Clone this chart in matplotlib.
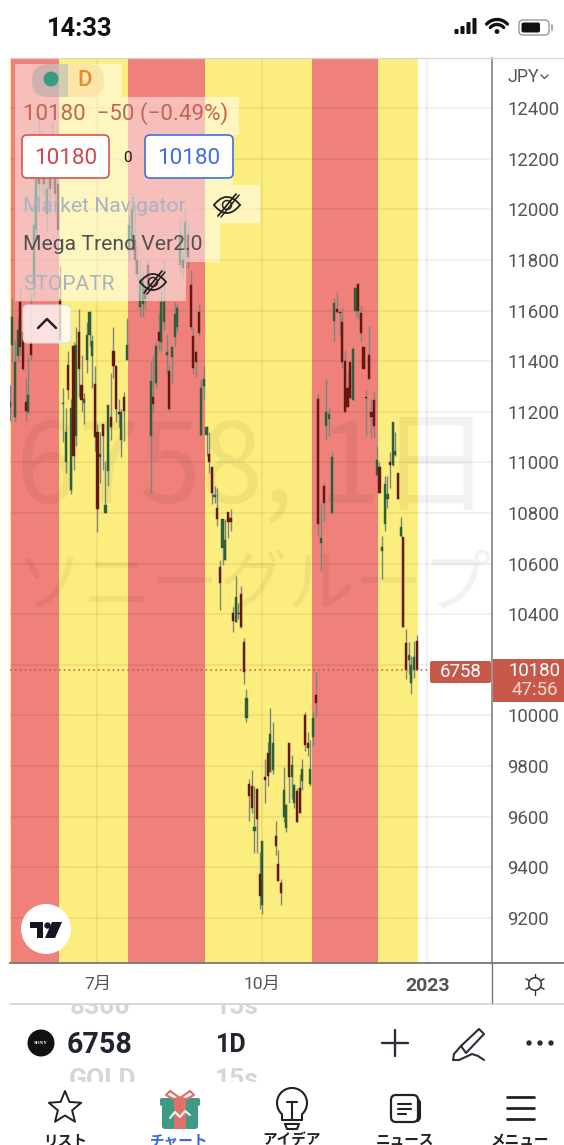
import matplotlib
matplotlib.use('Agg')
import matplotlib.pyplot as plt
import matplotlib.patches as mpatches
import numpy as np

plt.rcParams['font.family'] = ['Roboto', 'Noto Sans CJK JP', 'DejaVu Sans']

# Colors
RED_BAND = '#ef807a'
YELLOW_BAND = '#fcee7e'
UP_BODY = '#2d5f3b'
DOWN_BODY = '#64180f'
UP_WICK = '#74897a'
DOWN_WICK = '#85857a'
PRICE_TAG = '#c8594a'

# Daily candles, June 2022 - Dec 2022
opens = [11220, 11465, 11180, 11420, 11635, 11515, 11240, 11200, 11475, 11705,
         11920, 12235, 12275, 12255, 11980, 12155, 12140, 12175, 12100, 11645,
         11230, 11000, 11385, 10890, 11460, 11105, 11515, 11305, 11235, 11405,
         11505, 11420, 11310, 11120, 11020, 11150, 10800, 10965, 11180, 11440,
         11380, 11200, 11090, 11260, 11405, 11840, 11880, 11880, 11800, 11615,
         11625, 11685, 11780, 11105, 11260, 11315, 11515, 11475, 11555, 11425,
         11360, 11415, 11495, 11535, 11780, 11800, 11840, 11900, 11700, 11500,
         11435, 11595, 11110, 11300, 11110, 11035, 10980, 10865, 10820, 10585,
         10660, 10615, 10805, 10780, 10405, 10370, 10400, 10480, 10290, 9990,
         9730, 9720, 9545, 9710, 9375, 9250, 9755, 9850, 9775, 9785,
         9525, 9415, 9340, 9600, 9555, 9890, 9755, 9655, 9700, 9715,
         9740, 10000, 9890, 9730, 9915, 10080, 11250, 10680, 10905, 11145,
         11170, 10800, 11560, 11605, 11595, 11555, 11400, 11295, 11395, 11245,
         11600, 11705, 11590, 11455, 11260, 11425, 11200, 11245, 10950, 10980,
         10650, 10755, 10855, 11000, 10990, 11030, 10960, 10710, 10705, 10285,
         10220, 10130, 10180, 10295]
closes = [11240, 11575, 11395, 11525, 11455, 11370, 11205, 11265, 11425, 11940,
          12120, 12100, 12120, 12100, 12080, 12080, 12275, 12060, 11920, 11485,
          11235, 11120, 11285, 11215, 11025, 11465, 11370, 11245, 11250, 11505,
          11595, 11480, 11100, 10815, 11035, 11105, 10830, 11225, 11140, 11380,
          11210, 11190, 11200, 11205, 11465, 11940, 12000, 11800, 11745, 11725,
          11715, 11645, 11685, 11320, 11230, 11460, 11480, 11635, 11635, 11435,
          11210, 11455, 11585, 11610, 11900, 11770, 11950, 11810, 11535, 11375,
          11395, 11510, 11295, 11330, 11140, 11000, 10880, 10870, 10775, 10525,
          10775, 10695, 10765, 10765, 10375, 10470, 10405, 10350, 10170, 10070,
          9680, 9635, 9560, 9590, 9285, 9505, 9745, 9760, 9925, 9890,
          9485, 9345, 9300, 9705, 9645, 9755, 9805, 9725, 9580, 9615,
          9790, 9885, 9870, 9790, 9990, 10050, 10755, 10700, 10840, 11200,
          11190, 11020, 11630, 11595, 11590, 11395, 11200, 11220, 11255, 11450,
          11690, 11600, 11510, 11370, 11255, 11330, 11180, 11145, 11010, 10880,
          10665, 10915, 10875, 10990, 11160, 11045, 10855, 10745, 10350, 10180,
          10240, 10200, 10230, 10180]
highs = [11305, 11645, 11485, 11575, 11690, 11565, 11335, 11415, 11670, 12080,
         12155, 12380, 12315, 12295, 12235, 12175, 12345, 12235, 12195, 11775,
         11295, 11215, 11440, 11250, 11475, 11535, 11605, 11425, 11275, 11555,
         11600, 11505, 11380, 11150, 11120, 11150, 11005, 11225, 11355, 11535,
         11380, 11250, 11210, 11280, 11570, 11980, 12065, 12020, 11855, 11800,
         11760, 11705, 11800, 11400, 11425, 11475, 11590, 11685, 11800, 11505,
         11385, 11460, 11635, 11625, 11960, 11830, 12000, 11940, 11760, 11535,
         11445, 11625, 11330, 11380, 11145, 11120, 10980, 10905, 10900, 10615,
         10775, 10775, 10805, 10815, 10430, 10550, 10445, 10510, 10305, 10105,
         9750, 9785, 9720, 9710, 9460, 9505, 9830, 9895, 10030, 9975,
         9585, 9470, 9355, 9795, 9650, 9890, 9845, 9730, 9715, 9770,
         9830, 10015, 9935, 9905, 10015, 10170, 11270, 10840, 10920, 11330,
         11215, 11040, 11650, 11675, 11600, 11610, 11445, 11360, 11395, 11460,
         11695, 11705, 11620, 11455, 11290, 11540, 11250, 11280, 11065, 11000,
         10710, 10945, 10945, 11040, 11160, 11120, 10960, 10785, 10705, 10340,
         10290, 10235, 10295, 10320]
lows = [11165, 11395, 11160, 11395, 11425, 11360, 11160, 11190, 11405, 11645,
        11880, 12040, 12060, 12050, 11910, 12020, 12080, 11980, 11840, 11475,
        11080, 10960, 11250, 10875, 10970, 11065, 11260, 11200, 11150, 11355,
        11460, 11295, 11045, 10725, 10920, 10970, 10800, 10905, 11090, 11335,
        11160, 11140, 11020, 11085, 11405, 11795, 11840, 11745, 11715, 11580,
        11575, 11605, 11645, 10880, 11200, 11295, 11445, 11435, 11525, 11355,
        11200, 11315, 11455, 11515, 11745, 11730, 11795, 11770, 11525, 11350,
        11335, 11500, 11105, 11250, 11025, 10960, 10835, 10840, 10750, 10415,
        10595, 10615, 10700, 10730, 10330, 10370, 10380, 10345, 10125, 9975,
        9585, 9615, 9455, 9455, 9235, 9215, 9655, 9720, 9775, 9770,
        9450, 9345, 9250, 9580, 9540, 9655, 9670, 9635, 9580, 9615,
        9705, 9860, 9840, 9720, 9880, 9995, 10710, 10570, 10765, 11090,
        11105, 10800, 11480, 11590, 11500, 11375, 11200, 11220, 11255, 11245,
        11575, 11565, 11480, 11370, 11105, 11330, 11095, 11095, 10945, 10880,
        10540, 10730, 10820, 10900, 10985, 11025, 10855, 10705, 10350, 10145,
        10165, 10085, 10150, 10180]

# Trend regime changes, as candle numbers
band_edges = [-1, 0.5, 18.5, 44.5, 73.5, 113.5, 138.5, 153.5]
band_colors = [YELLOW_BAND, RED_BAND, YELLOW_BAND, RED_BAND, YELLOW_BAND, RED_BAND, YELLOW_BAND]

price_ticks = [9200, 9400, 9600, 9800, 10000, 10200, 10400, 10600, 10800, 11000,
               11200, 11400, 11600, 11800, 12000, 12200, 12400]
# 10200 sits under the price tag, so it keeps its grid line but shows no label
price_labels = ['' if p == 10200 else str(p) for p in price_ticks]
month_ticks = [33, 95, 157]
month_labels = ['7月', '10月', '2023']
last_price = 10180

fig = plt.figure(figsize=(5.64, 11.45), dpi=100)
W, H = 564.0, 1145.0

# Chart area in screen pixels
left, right, top, bottom = 10, 492, 58, 963
ax = fig.add_axes([left / W, 1 - bottom / H, (right - left) / W, (bottom - top) / H])
ax.set_ylim(9022, 12598)
ax.set_xlim(0.11, 181.3)

for i in range(len(band_colors)):
    ax.axvspan(band_edges[i], band_edges[i + 1], color=band_colors[i], lw=0, zorder=0)

ax.set_yticks(price_ticks)
ax.set_yticklabels(price_labels)
ax.set_xticks(month_ticks)
ax.set_xticklabels(month_labels)
ax.yaxis.tick_right()
ax.tick_params(axis='y', length=0, pad=11, labelsize=13.4, labelcolor='#555555')
ax.tick_params(axis='x', length=0, pad=10, labelsize=12.5, labelcolor='#555555')
ax.get_xticklabels()[2].set_fontweight('bold')
ax.get_xticklabels()[2].set_fontsize(14)
ax.grid(True, color='black', alpha=0.07, lw=1.1, zorder=1)
ax.set_axisbelow(True)
for side in ['left', 'top']:
    ax.spines[side].set_visible(False)
ax.spines['right'].set_color('#777777')
ax.spines['bottom'].set_color('#777777')
ax.spines['right'].set_linewidth(1.1)
ax.spines['bottom'].set_linewidth(1.3)

# Watermark
ax.text(0.505, 0.545, '6758, 1日', transform=ax.transAxes, ha='center', va='center',
        fontsize=80, color='black', alpha=0.05, zorder=1.5, family=['Noto Sans CJK JP', 'DejaVu Sans'])
ax.text(0.505, 0.416, 'ソニーグループ', transform=ax.transAxes, ha='center', va='center',
        fontsize=49, color='black', alpha=0.05, zorder=1.5, family=['Noto Sans CJK JP', 'DejaVu Sans'])

# Candles
idx = np.arange(len(opens))
o, c, h, l = np.array(opens), np.array(closes), np.array(highs), np.array(lows)
up = c >= o
ax.vlines(idx[up], l[up], h[up], color=UP_WICK, lw=1.0, zorder=2)
ax.vlines(idx[~up], l[~up], h[~up], color=DOWN_WICK, lw=1.0, zorder=2)
ax.bar(idx[up], (c - o)[up], bottom=o[up], width=0.8, color=UP_BODY,
       edgecolor=UP_BODY, lw=0.3, zorder=3)
ax.bar(idx[~up], (c - o)[~up], bottom=o[~up], width=0.8, color=DOWN_BODY,
       edgecolor=DOWN_BODY, lw=0.3, zorder=3)

ax.axhline(last_price, color='#b9503f', lw=1.1, ls=(0, (1, 2.2)), zorder=3)

# Everything else on the screen is drawn in pixel coordinates
ui = fig.add_axes([0, 0, 1, 1], zorder=5)
ui.set_xlim(0, W)
ui.set_ylim(H, 0)
ui.axis('off')
ui.patch.set_alpha(0)


def rect(x0, y0, x1, y1, fc, ec='none', lw=0, alpha=None, round_px=0, z=2):
    style = 'round,pad=0,rounding_size=%g' % round_px if round_px else 'square,pad=0'
    p = mpatches.FancyBboxPatch((x0, y0), x1 - x0, y1 - y0, boxstyle=style, fc=fc, ec=ec,
                                lw=lw, alpha=alpha, zorder=z)
    ui.add_patch(p)
    return p


def line(xs, ys, color='#222222', lw=1.5, z=4):
    ui.plot(xs, ys, color=color, lw=lw, zorder=z, solid_capstyle='round', solid_joinstyle='round')


def label(x, y, s, size, color='#222222', weight='normal', ha='left', z=4, **kw):
    return ui.text(x, y, s, fontsize=size, color=color, fontweight=weight, ha=ha, va='center',
                   zorder=z, **kw)


def eye(x, y):
    t = np.linspace(-1, 1, 30)
    line(x + 13 * t, y - 8 * (1 - t ** 2), lw=1.3)
    line(x + 13 * t, y + 8 * (1 - t ** 2), lw=1.3)
    circle = mpatches.Circle((x, y), 4.5, fc='none', ec='#222222', lw=1.1, zorder=4)
    ui.add_patch(circle)
    line([x - 9, x + 9], [y + 11, y - 11], lw=1.3)
    line([x - 6, x + 12], [y + 12, y - 10], lw=1.1)


# Top border and lines around the axes
line([left, 564], [58, 58], color='#d5d5d5', lw=0.9, z=1)
line([10, 564], [1003.5, 1003.5], color='#cfcfcf', lw=1.1, z=1)
line([492, 492], [963, 1003], color='#777777', lw=1.0, z=1)
line([492, 564], [963, 963], color='#777777', lw=1.3, z=1)

# Legend veils
for x1, y0, y1 in [(122, 64, 97), (239, 97, 135), (233, 135, 185), (260, 185, 223),
                   (220, 223, 262), (186, 262, 301)]:
    rect(15, y0, x1, y1, 'white', alpha=0.5, z=1)

# Interval pill, two tints
pill_l = rect(32, 64, 104, 97, '#a9a5a2', alpha=0.5, round_px=16, z=1.5)
pill_l.set_clip_path(mpatches.Rectangle((32, 64), 36, 33, transform=ui.transData))
pill_r = rect(32, 64, 104, 97, '#fbdc9a', alpha=0.6, round_px=16, z=1.5)
pill_r.set_clip_path(mpatches.Rectangle((68, 64), 36, 33, transform=ui.transData))
ui.add_patch(mpatches.Circle((51, 79), 7.5, fc='#3a9b84', ec='none', zorder=3))
label(85, 81, 'D', 16, color='#e68a2e', weight='medium', ha='center')
label(23, 114, '10180  −50 (−0.49%)', 16.1, color='#c4654f')

rect(22, 135, 109, 178, 'white', ec='#d9534f', lw=1.2, round_px=5, z=3)
rect(145, 135, 233, 178, 'white', ec='#3f6fe0', lw=1.2, round_px=5, z=3)
label(65.5, 158, '10180', 16.2, color='#d0474f', ha='center')
label(189, 158, '10180', 16.2, color='#3f6fe0', ha='center')
label(127, 158, '0', 11, color='#111111', ha='center')

label(23, 206, 'Market Navigator', 15.2, color='#a8b3c4')
label(23, 245, 'Mega Trend Ver2.0', 15.2, color='#505050')
label(23, 284, 'STOPATR', 15, color='#a8b3c4')
eye(227, 205)
eye(153, 282)

rect(23, 305, 71, 343, 'white', ec='#dddddd', lw=1.0, alpha=0.78, round_px=5, z=3)
line([38, 47, 56], [328, 319, 328], lw=1.8)

# TradingView badge
ui.add_patch(mpatches.Circle((46, 929), 25, fc='white', ec='none', zorder=3))
ui.add_patch(mpatches.Polygon([(30, 922), (43, 922), (43, 938), (37, 938), (37, 928), (30, 928)],
                              fc='#131722', ec='none', zorder=4))
ui.add_patch(mpatches.Circle((47.5, 925.5), 3.2, fc='#131722', ec='none', zorder=4))
ui.add_patch(mpatches.Polygon([(52, 922), (62, 922), (55, 938), (45, 938)], fc='#131722', ec='none', zorder=4))

# Price tags
rect(430, 661, 491, 683, PRICE_TAG, round_px=2, z=3)
label(461, 672, '6758', 13.4, color='white', ha='center')
rect(493, 659, 564, 702, PRICE_TAG, z=3)
label(535, 671, '10180', 13.4, color='white', ha='center')
label(535, 690, '47:56', 13.4, color='#f3d5cf', ha='center')

# JPY and status bar
label(507, 77, 'JPY', 12.8, color='#555555')
line([541, 544.5, 548], [75, 78.5, 75], color='#555555', lw=1.0)
label(47, 29, '14:33', 18.4, color='#111111', weight='bold')
for i, bar_h in enumerate([5, 8, 12, 16]):
    rect(454.5 + i * 6, 34 - bar_h, 458.5 + i * 6, 34, '#111111', round_px=1)
for r in [14, 9]:
    t = np.radians(np.linspace(-48, 48, 20))
    line(497 + r * np.sin(t), 34.5 - r * np.cos(t) - 1, color='#111111', lw=2.4)
ui.add_patch(mpatches.Circle((497, 31.5), 2.4, fc='#111111', ec='none', zorder=4))
rect(519, 20, 549, 35, 'white', ec='#999999', lw=1.0, round_px=4)
rect(521.5, 22.5, 540, 32.5, '#111111', round_px=2, z=3)
line([552, 552], [25, 30], color='#999999', lw=1.2)

# Sun icon
ui.add_patch(mpatches.Circle((535, 984), 6.3, fc='none', ec='#333333', lw=1.1, zorder=4))
for a in np.radians(np.arange(0, 360, 60) + 30):
    line([535 + 7 * np.cos(a), 535 + 10.5 * np.cos(a)], [984 + 7 * np.sin(a), 984 + 10.5 * np.sin(a)],
         color='#333333', lw=1.0)

# Ghost rows of the scrolling picker
clip = mpatches.Rectangle((0, 1004), W, 78, transform=ui.transData)
for x, y, s in [(100, 1007, '8306'), (237, 1007, '15s'), (103, 1080, 'GOLD'), (237, 1080, '15s')]:
    t = label(x, y, s, 19, color='#d6d6d6', weight='bold', ha='center')
    t.set_clip_on(True)
    t.set_clip_path(clip)

# Symbol row
ui.add_patch(mpatches.Circle((41, 1043), 13.5, fc='#111111', ec='none', zorder=3))
label(41, 1043, 'SONY', 3.6, color='white', ha='center', family='Liberation Serif', weight='bold')
label(67, 1045, '6758', 20.6, color='#1f2430', weight='bold')
label(216, 1045, '1D', 18, color='#1f2430', weight='bold')
line([382, 408], [1043, 1043], color='#2a2e39', lw=1.7)
line([395, 395], [1030, 1056], color='#2a2e39', lw=1.7)
line([461, 479, 484, 466, 461], [1046, 1029, 1034, 1053, 1046], color='#2a2e39', lw=1.5)
line([461, 454, 453, 459, 472, 478, 484], [1046, 1054, 1060, 1060, 1054, 1056, 1060], color='#2a2e39', lw=1.5)
for x in [529, 540, 551]:
    ui.add_patch(mpatches.Circle((x, 1043), 2.7, fc='#2a2e39', ec='none', zorder=4))

# Bottom navigation
nav_x = [65, 179, 292, 405, 520]
nav_labels = ['リスト', 'チャート', 'アイデア', 'ニュース', 'メニュー']
for x, s in zip(nav_x, nav_labels):
    color = '#3a67e0' if s == 'チャート' else '#222222'
    ui.text(x, 1140, s, fontsize=10.5, color=color, fontweight='bold', ha='center', va='center',
            family=['Noto Sans CJK JP', 'DejaVu Sans'], zorder=4)

a = np.radians(np.arange(0, 360, 36) - 90)
r = np.where(np.arange(10) % 2 == 0, 17, 7.5)
ui.add_patch(mpatches.Polygon(np.column_stack([65 + r * np.cos(a), 1108 + r * np.sin(a)]),
                              fc='none', ec='#222222', lw=1.4, joinstyle='round', zorder=4))

# Gift
rect(162, 1100, 198, 1129, '#3f9a83', round_px=3)
rect(174, 1100, 186, 1129, '#e0706a', z=3)
rect(160, 1098, 200, 1106, '#3f9a83', round_px=2, z=3)
rect(174, 1098, 186, 1106, '#e0706a', z=3.5)
line([180, 170, 166, 173, 180], [1098, 1091, 1095, 1099, 1098], color='#e0706a', lw=1.6)
line([180, 190, 194, 187, 180], [1098, 1091, 1095, 1099, 1098], color='#e0706a', lw=1.6)
line([170, 175, 180, 185, 190], [1118, 1112, 1117, 1111, 1115], color='white', lw=1.5, z=5)

# Bulb
ui.add_patch(mpatches.Arc((292, 1103), 30, 30, theta1=130, theta2=50, ec='#222222', lw=1.5, zorder=4))
line([282, 282, 302, 302], [1115, 1120, 1120, 1115], lw=1.5)
line([285, 299, 297, 287, 285], [1124, 1124, 1129, 1129, 1124], lw=1.5)
line([287, 297], [1102, 1102], lw=1.5)
line([292, 292], [1102, 1119], lw=1.5)

# News
rect(391, 1095, 418, 1122, 'white', ec='#222222', lw=1.6, round_px=5, z=3)
line([398, 411], [1104, 1104], lw=1.5)
line([398, 411], [1109, 1109], lw=1.5)
line([398, 406], [1114, 1114], lw=1.5)
line([418, 420, 420, 418], [1099, 1102, 1118, 1121], lw=1.5)

# Menu
for y in [1097, 1108, 1119]:
    line([507, 534], [y, y], lw=2.0)

fig.savefig('out.png', dpi=100)
